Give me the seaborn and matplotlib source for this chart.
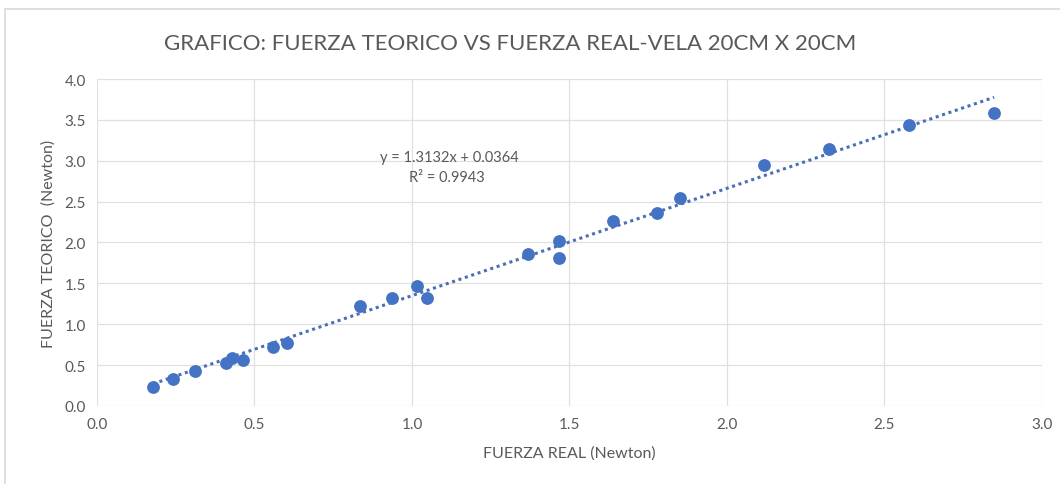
import numpy as np
import pandas as pd
import seaborn as sns
import matplotlib.pyplot as plt
from matplotlib.patches import Rectangle

# Valores
fuerza_real = [0.178, 0.241, 0.311, 0.410, 0.429, 0.464, 0.559, 0.603,
               0.834, 0.938, 1.015, 1.047, 1.368, 1.467, 1.467, 1.638,
               1.778, 1.851, 2.117, 2.324, 2.578, 2.848]
fuerza_teorico = [0.232, 0.330, 0.428, 0.526, 0.587, 0.563, 0.720, 0.770,
                  1.223, 1.320, 1.470, 1.320, 1.860, 2.020, 1.810, 2.260,
                  2.360, 2.540, 2.950, 3.140, 3.440, 3.580]

# Linea de tendencia (Excel)
pendiente = 1.3132
intercepto = 0.0364
r2 = 0.9943

data = pd.DataFrame({'real': fuerza_real, 'teorico': fuerza_teorico})
x_tend = np.linspace(min(fuerza_real), max(fuerza_real), 50)
tendencia = pd.DataFrame({'x': x_tend, 'y': pendiente * x_tend + intercepto})

sns.set_style('white')
plt.rcParams['font.family'] = ['Lato', 'DejaVu Sans']

gris = '#595959'
azul = '#4472C4'

fig = plt.figure(figsize=(10.6, 4.85), dpi=100)
fig.patches.append(Rectangle((0.005, -0.1), 1.2, 1.079, transform=fig.transFigure,
                             fill=False, edgecolor='#d9d9d9', linewidth=1.2))
ax = fig.add_axes([0.0915, 0.161, 0.8915, 0.674])

sns.lineplot(data=tendencia, x='x', y='y', ax=ax, color='#4a6fb5',
             linestyle=(0, (1, 1.2)), linewidth=2.2, zorder=2)
sns.scatterplot(data=data, x='real', y='teorico', ax=ax, color=azul,
                s=85, edgecolor=azul, linewidth=0, zorder=3)

ax.set_xlim(0, 3.0)
ax.set_ylim(0, 4.0)
ax.set_xticks(np.arange(0, 3.01, 0.5))
ax.set_yticks(np.arange(0, 4.01, 0.5))
ax.set_xticklabels([f'{v:.1f}' for v in np.arange(0, 3.01, 0.5)])
ax.set_yticklabels([f'{v:.1f}' for v in np.arange(0, 4.01, 0.5)])
ax.grid(True, color='#e0e0e0', linewidth=0.9)
ax.set_axisbelow(True)
for s in ax.spines.values():
    s.set_visible(False)
ax.tick_params(axis='both', colors=gris, labelsize=11, length=0, pad=8)

ax.set_xlabel('FUERZA REAL (Newton)', color=gris, fontsize=11.5, labelpad=10)
ax.set_ylabel('FUERZA TEORICO  (Newton)', color=gris, fontsize=11.5, labelpad=6)

fig.text(0.481, 0.91, 'GRAFICO: FUERZA TEORICO VS FUERZA REAL-VELA 20CM X 20CM',
         ha='center', va='center', color=gris, fontsize=16)

ax.text(1.12, 3.05, f'y = {pendiente}x + {intercepto}', ha='center', va='center',
        color=gris, fontsize=10.5)
ax.text(1.11, 2.80, f'R² = {r2}', ha='center', va='center', color=gris, fontsize=10.5)

fig.savefig('out.png', dpi=100, facecolor='white')
